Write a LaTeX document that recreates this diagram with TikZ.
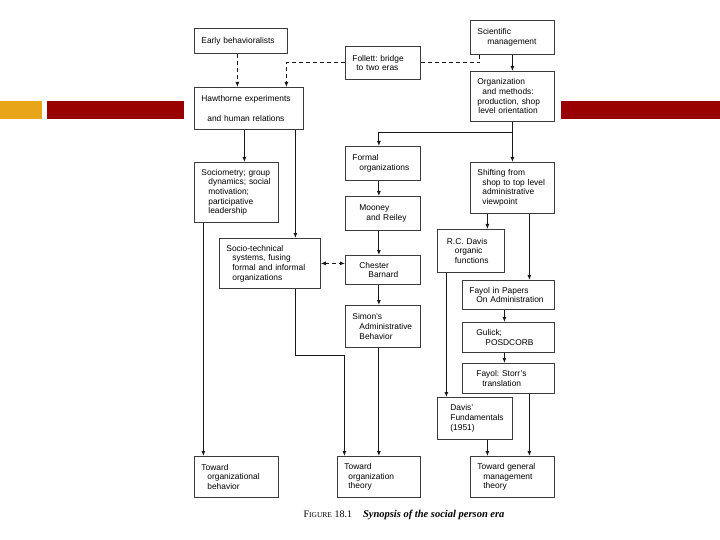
\documentclass[tikz,border=0pt]{standalone}
\usepackage{fontspec}
\setmainfont{Liberation Sans}
\newfontfamily\capfont{Liberation Serif}
\usetikzlibrary{arrows.meta,positioning}
\definecolor{slidered}{RGB}{153,0,0}
\definecolor{slideorange}{RGB}{232,165,25}
\definecolor{boxline}{RGB}{60,60,60}
\tikzstyle{arrow} = [line width=0.9pt,->,>={Latex[length=5pt,width=4pt]},color=black!90]
\tikzstyle{dasharrow} = [arrow, dash pattern=on 4pt off 3pt]
\tikzstyle{dashline} = [line width=0.9pt, color=black!90, dash pattern=on 4pt off 3pt]
\frenchspacing

\begin{document}
\begin{tikzpicture}[x=1pt, y=-1pt,
    box/.style 2 args={rectangle, draw=boxline, line width=0.8pt, anchor=north west, minimum width=#1, minimum height=#2, text width=#1pt-14pt, inner xsep=7pt, align=left, font=\fontsize{8.4}{9.7}\selectfont}]

\useasboundingbox (0,0) rectangle (720,540);

% Slide bars
\fill[slideorange] (0,101) rectangle (42,119);
\fill[slidered] (47,101) rectangle (184,119);
\fill[slidered] (561,101) rectangle (720,119);

% Top row
\node[box={93}{25}] (early) at (194,28) {Early behavioralists};
\node[box={75}{33}] (follett) at (345,46) {Follett: bridge\\\hspace*{4pt}to two eras};
\node[box={84}{34}] (sci) at (470,20) {Scientific\\\hspace*{10pt}management};
\node[box={84}{50}] (orgm) at (470,71) {Organization\\\hspace*{5pt}and methods:\\production, shop\\\hspace*{1pt}level orientation};
\node[box={109}{42}] (haw) at (194,87) {Hawthorne experiments\\[11pt]\hspace*{6pt}and human relations};

% Left column
\node[box={84}{60}] (socio) at (194,162) {Sociometry; group\\\hspace*{7pt}dynamics; social\\\hspace*{7pt}motivation;\\\hspace*{7pt}participative\\\hspace*{7pt}leadership};
\node[box={101}{50}] (soctech) at (219,238) {Socio-technical\\\hspace*{6pt}systems, fusing\\\hspace*{6pt}formal and informal\\\hspace*{6pt}organizations};

% Middle column
\node[box={75}{34}] (formal) at (345,146) {Formal\\\hspace*{7pt}organizations};
\node[box={75}{34}] (mooney) at (345,196) {\hspace*{7pt}Mooney\\\hspace*{14pt}and Reiley};
\node[box={75}{29}] (chester) at (345,255) {\hspace*{7pt}Chester\\\hspace*{16pt}Barnard};
\node[box={75}{42}] (simon) at (345,305) {Simon's\\\hspace*{7pt}Administrative\\\hspace*{7pt}Behavior};

% Right column
\node[box={84}{51}] (shift) at (470,162) {Shifting from\\\hspace*{5pt}shop to top level\\\hspace*{5pt}administrative\\\hspace*{5pt}viewpoint};
\node[box={67}{43}] (rcdavis) at (437,229) {\hspace*{2.5pt}R.C. Davis\\\hspace*{10.5pt}organic\\\hspace*{10.5pt}functions};
\node[box={92}{29}] (fayolp) at (462,280) {Fayol in Papers\\\hspace*{7pt}On Administration};
\node[box={92}{30}] (gulick) at (462,322) {\hspace*{7pt}Gulick;\\\hspace*{16pt}POSDCORB};
\node[box={92}{30}] (storr) at (462,363) {\hspace*{7pt}Fayol: Storr's\\\hspace*{13pt}translation};
\node[box={75}{42}] (davisf) at (437,397) {\hspace*{6pt}Davis'\\\hspace*{6pt}Fundamentals\\\hspace*{6pt}(1951)};

% Bottom row
\node[box={84}{41}] (tob) at (194,456) {Toward\\\hspace*{6pt}organizational\\\hspace*{6pt}behavior};
\node[box={83}{41}] (tot) at (337,456) {Toward\\\hspace*{4pt}organization\\\hspace*{4pt}theory};
\node[box={84}{41}] (tgm) at (470,456) {Toward general\\\hspace*{6pt}management\\\hspace*{6pt}theory};

% Caption
\node[font=\capfont\fontsize{10}{12}\selectfont, inner sep=0pt] (caption) at (404,515)
  {F{\fontsize{7.5}{9}\selectfont IGURE} 18.1\hspace{11pt}{\fontsize{10.5}{12}\selectfont\bfseries\itshape Synopsis of the social person era}};

% Dashed links around Follett
\draw[dasharrow] ([xshift=-3.5pt]early.south) -- ([xshift=-3.5pt]early.south |- haw.north);
\draw[dasharrow] (follett.west) -| ([xshift=37.5pt]haw.north);
\draw[dashline] ([xshift=-33pt]sci.south) |- (follett.east);

% Management branch
\draw[arrow] (sci) -- (orgm);
\draw[arrow] (orgm.south) -- ++(0,11) -| (formal.north -| tot);
\draw[arrow] (orgm) -- (shift);
\draw[arrow] ([xshift=-25pt]shift.south) -- ([xshift=-25pt]shift.south |- rcdavis.north);
\draw[arrow] ([xshift=17pt]shift.south) -- ([xshift=17pt]shift.south |- fayolp.north);
\draw[arrow] ([xshift=-4pt]fayolp.south) -- ([xshift=-4pt]gulick.north);
\draw[arrow] ([xshift=-4pt]gulick.south) -- ([xshift=-4pt]storr.north);
\draw[arrow] ([xshift=-24.5pt]rcdavis.south) -- ([xshift=-24.5pt]rcdavis.south |- davisf.north);
\draw[arrow] ([xshift=12.5pt]davisf.south) -- ([xshift=-25pt]tgm.north);
\draw[arrow] ([xshift=21pt]storr.south) -- ([xshift=17pt]tgm.north);

% Organization branch
\draw[arrow] (formal.south -| tot) -- (mooney.north -| tot);
\draw[arrow] (mooney.south -| tot) -- (chester.north -| tot);
\draw[arrow] (chester.south -| tot) -- (simon.north -| tot);
\draw[arrow] (simon.south -| tot) -- (tot.north);

% Human relations branch
\draw[arrow] ([xshift=-4.5pt]haw.south) -- ([xshift=-4.5pt]haw.south |- socio.north);
\draw[arrow] ([xshift=46.5pt]haw.south) -- ([xshift=46.5pt]haw.south |- soctech.north);
\draw[arrow] ([xshift=-33pt]socio.south) -- ([xshift=-33pt]tob.north);
\draw[arrow] ([xshift=25.5pt]soctech.south) -- ++(0,67) -| ([xshift=-34.5pt]tot.north);
\draw[dasharrow, <->] (soctech.east) -- (soctech.east -| chester.west);

\end{tikzpicture}
\end{document}
